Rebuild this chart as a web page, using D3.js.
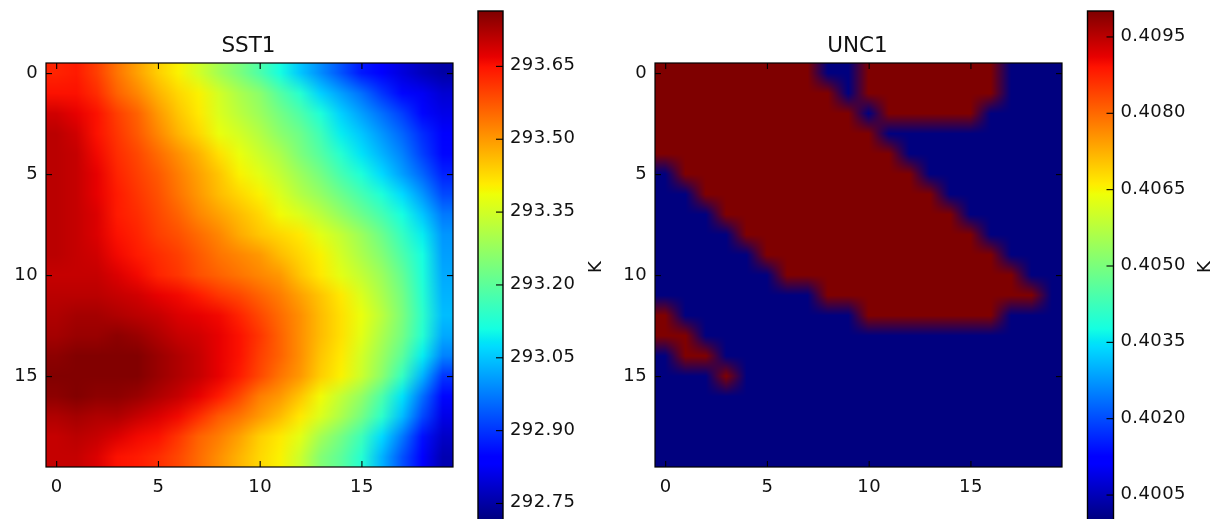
<!DOCTYPE html>
<html>
<head>
<meta charset="utf-8">
<script src="https://cdn.jsdelivr.net/npm/d3@7"></script>
<style>
  html, body { margin: 0; background: #fff; overflow: hidden; }
  #chart { position: relative; width: 1216px; height: 519px; filter: blur(0.65px); }
  #chart canvas, #chart svg { position: absolute; }
  text { font-family: "DejaVu Sans", sans-serif; fill: #111; }
</style>
</head>
<body>
<div id="chart"></div>
<script>
// values, one row per line
const sstValues = [
  [293.63,293.64,293.60,293.54,293.49,293.44,293.40,293.35,293.29,293.24,293.18,293.11,293.05,292.99,292.93,292.87,292.83,292.80,292.77,292.75],
  [293.65,293.65,293.62,293.56,293.52,293.47,293.43,293.40,293.35,293.30,293.26,293.19,293.13,293.06,293.01,292.96,292.90,292.85,292.82,292.79],
  [293.69,293.67,293.65,293.60,293.56,293.50,293.45,293.41,293.36,293.32,293.28,293.23,293.18,293.12,293.06,293.01,292.96,292.91,292.85,292.81],
  [293.71,293.69,293.65,293.61,293.57,293.52,293.47,293.43,293.38,293.35,293.31,293.26,293.22,293.16,293.09,293.05,293.00,292.95,292.89,292.84],
  [293.71,293.70,293.66,293.62,293.59,293.55,293.51,293.47,293.42,293.38,293.34,293.30,293.24,293.19,293.13,293.08,293.03,292.98,292.91,292.85],
  [293.71,293.70,293.67,293.63,293.60,293.57,293.53,293.49,293.45,293.40,293.37,293.33,293.28,293.23,293.17,293.12,293.07,293.01,292.95,292.88],
  [293.71,293.70,293.67,293.64,293.61,293.58,293.54,293.50,293.46,293.43,293.40,293.36,293.31,293.27,293.22,293.17,293.12,293.07,293.00,292.92],
  [293.71,293.70,293.68,293.64,293.62,293.59,293.56,293.52,293.49,293.46,293.43,293.39,293.36,293.32,293.27,293.22,293.17,293.11,293.05,292.97],
  [293.71,293.70,293.68,293.65,293.63,293.60,293.58,293.55,293.52,293.48,293.45,293.43,293.41,293.37,293.33,293.28,293.22,293.15,293.09,293.00],
  [293.71,293.70,293.69,293.66,293.64,293.62,293.60,293.57,293.54,293.52,293.50,293.46,293.43,293.40,293.35,293.30,293.25,293.18,293.11,293.01],
  [293.70,293.70,293.70,293.68,293.66,293.63,293.61,293.58,293.56,293.54,293.52,293.50,293.45,293.41,293.37,293.33,293.28,293.21,293.12,293.02],
  [293.71,293.71,293.71,293.70,293.69,293.67,293.66,293.64,293.61,293.59,293.56,293.53,293.49,293.45,293.41,293.36,293.30,293.23,293.13,293.03],
  [293.72,293.73,293.73,293.72,293.71,293.70,293.68,293.67,293.66,293.63,293.59,293.55,293.51,293.46,293.42,293.38,293.32,293.24,293.14,293.04],
  [293.73,293.74,293.74,293.75,293.74,293.72,293.70,293.69,293.67,293.65,293.61,293.56,293.51,293.46,293.42,293.37,293.30,293.23,293.13,293.02],
  [293.75,293.76,293.76,293.76,293.76,293.74,293.72,293.70,293.67,293.65,293.60,293.56,293.51,293.45,293.41,293.35,293.28,293.20,293.09,292.98],
  [293.76,293.76,293.76,293.76,293.76,293.74,293.72,293.70,293.67,293.64,293.59,293.54,293.50,293.44,293.40,293.34,293.26,293.15,293.03,292.90],
  [293.75,293.76,293.75,293.75,293.74,293.72,293.70,293.67,293.64,293.59,293.53,293.50,293.45,293.39,293.33,293.27,293.18,293.08,292.96,292.85],
  [293.72,293.73,293.72,293.72,293.70,293.68,293.66,293.62,293.57,293.54,293.50,293.46,293.41,293.36,293.30,293.23,293.14,293.04,292.92,292.81],
  [293.70,293.71,293.70,293.68,293.66,293.65,293.61,293.56,293.53,293.49,293.44,293.41,293.37,293.29,293.23,293.16,293.07,292.97,292.86,292.78],
  [293.70,293.70,293.68,293.65,293.64,293.62,293.59,293.55,293.51,293.47,293.43,293.40,293.34,293.25,293.20,293.13,293.03,292.93,292.83,292.76]
];

const uncValues = [
  [.41,.41,.41,.41,.41,.41,.41,.41,.40,.40,.41,.41,.41,.41,.41,.41,.41,.40,.40,.40],
  [.41,.41,.41,.41,.41,.41,.41,.41,.41,.40,.41,.41,.41,.41,.41,.41,.41,.40,.40,.40],
  [.41,.41,.41,.41,.41,.41,.41,.41,.41,.41,.40,.41,.41,.41,.41,.41,.40,.40,.40,.40],
  [.41,.41,.41,.41,.41,.41,.41,.41,.41,.41,.41,.40,.40,.40,.40,.40,.40,.40,.40,.40],
  [.41,.41,.41,.41,.41,.41,.41,.41,.41,.41,.41,.41,.40,.40,.40,.40,.40,.40,.40,.40],
  [.40,.41,.41,.41,.41,.41,.41,.41,.41,.41,.41,.41,.41,.40,.40,.40,.40,.40,.40,.40],
  [.40,.40,.41,.41,.41,.41,.41,.41,.41,.41,.41,.41,.41,.41,.40,.40,.40,.40,.40,.40],
  [.40,.40,.40,.41,.41,.41,.41,.41,.41,.41,.41,.41,.41,.41,.41,.40,.40,.40,.40,.40],
  [.40,.40,.40,.40,.41,.41,.41,.41,.41,.41,.41,.41,.41,.41,.41,.41,.40,.40,.40,.40],
  [.40,.40,.40,.40,.40,.41,.41,.41,.41,.41,.41,.41,.41,.41,.41,.41,.41,.40,.40,.40],
  [.40,.40,.40,.40,.40,.40,.41,.41,.41,.41,.41,.41,.41,.41,.41,.41,.41,.41,.40,.40],
  [.40,.40,.40,.40,.40,.40,.40,.40,.41,.41,.41,.41,.41,.41,.41,.41,.41,.41,.41,.40],
  [.41,.40,.40,.40,.40,.40,.40,.40,.40,.40,.41,.41,.41,.41,.41,.41,.41,.40,.40,.40],
  [.41,.41,.40,.40,.40,.40,.40,.40,.40,.40,.40,.40,.40,.40,.40,.40,.40,.40,.40,.40],
  [.40,.41,.41,.40,.40,.40,.40,.40,.40,.40,.40,.40,.40,.40,.40,.40,.40,.40,.40,.40],
  [.40,.40,.40,.41,.40,.40,.40,.40,.40,.40,.40,.40,.40,.40,.40,.40,.40,.40,.40,.40],
  [.40,.40,.40,.40,.40,.40,.40,.40,.40,.40,.40,.40,.40,.40,.40,.40,.40,.40,.40,.40],
  [.40,.40,.40,.40,.40,.40,.40,.40,.40,.40,.40,.40,.40,.40,.40,.40,.40,.40,.40,.40],
  [.40,.40,.40,.40,.40,.40,.40,.40,.40,.40,.40,.40,.40,.40,.40,.40,.40,.40,.40,.40],
  [.40,.40,.40,.40,.40,.40,.40,.40,.40,.40,.40,.40,.40,.40,.40,.40,.40,.40,.40,.40]
];

const gridTicks = [0, 5, 10, 15];
const sstTicks = [292.75, 292.90, 293.05, 293.20, 293.35, 293.50, 293.65];
const uncTicks = [0.4005, 0.4020, 0.4035, 0.4050, 0.4065, 0.4080, 0.4095];

// jet colormap
const jetStops = [0, .11, .125, .34, .35, .375, .64, .65, .66, .89, .91, 1];
const jetColors = ["#00007f", "#0000ff", "#0000ff", "#00dbff", "#00e5f7", "#14ffe2",
  "#eeff08", "#f7f500", "#ffec00", "#ff1300", "#e80000", "#7f0000"];

const jet = d3.scaleLinear().domain(jetStops).range(jetColors).clamp(true);

const chart = d3.select("#chart");
const svg = chart.append("svg").attr("width", 1216).attr("height", 519);
const defs = svg.append("defs");

defs.append("linearGradient")
  .attr("id", "jet-grad")
  .attr("x1", 0).attr("y1", 1).attr("x2", 0).attr("y2", 0)
  .selectAll("stop")
  .data(jetStops)
  .enter()
  .append("stop")
  .attr("offset", (d) => d)
  .attr("stop-color", (d, i) => jetColors[i]);

const fontSize = 18;

function styleTicks(g) {
  g.selectAll("text")
    .attr("font-size", fontSize)
    .attr("letter-spacing", 0.4);
  g.selectAll("line").attr("stroke", "#000").attr("stroke-width", 1.1);
  g.select(".domain").remove();
}

// imshow: colours are interpolated bilinear in rgb between the cells
function drawImage(values, color, box) {
  const x = d3.scaleLinear().domain([-0.5, 19.5]).range([box.left, box.right]);
  const y = d3.scaleLinear().domain([-0.5, 19.5]).range([box.top, box.bottom]);

  const w = box.right - box.left;
  const h = box.bottom - box.top;
  const canvas = chart.insert("canvas", "svg")
    .attr("width", w)
    .attr("height", h)
    .style("left", box.left + "px")
    .style("top", box.top + "px")
    .node();
  const ctx = canvas.getContext("2d");
  const img = ctx.createImageData(w, h);

  const cells = values.map((row) => row.map((v) => d3.rgb(jet(color(v)))));
  const limit = (v) => Math.max(0, Math.min(19, v));

  for (let py = 0; py < h; py++) {
    const fy = limit(y.invert(box.top + py + 0.5));
    const r0 = Math.floor(fy);
    const r1 = Math.min(19, r0 + 1);
    for (let px = 0; px < w; px++) {
      const fx = limit(x.invert(box.left + px + 0.5));
      const c0 = Math.floor(fx);
      const c1 = Math.min(19, c0 + 1);
      const i = (py * w + px) * 4;
      ["r", "g", "b"].forEach((ch, k) => {
        const top = cells[r0][c0][ch] * (1 - fx + c0) + cells[r0][c1][ch] * (fx - c0);
        const bot = cells[r1][c0][ch] * (1 - fx + c0) + cells[r1][c1][ch] * (fx - c0);
        img.data[i + k] = top * (1 - fy + r0) + bot * (fy - r0);
      });
      img.data[i + 3] = 255;
    }
  }
  ctx.putImageData(img, 0, 0);

  // ticks point inwards on all four sides
  svg.append("g")
    .attr("transform", `translate(0,${box.bottom})`)
    .call(d3.axisBottom(x).tickValues(gridTicks).tickSize(-6).tickPadding(12))
    .call(styleTicks);
  svg.append("g")
    .attr("transform", `translate(0,${box.top})`)
    .call(d3.axisTop(x).tickValues(gridTicks).tickSize(-6).tickFormat(""))
    .call(styleTicks);
  svg.append("g")
    .attr("transform", `translate(${box.left},0)`)
    .call(d3.axisLeft(y).tickValues(gridTicks).tickSize(-6).tickPadding(8))
    .call(styleTicks)
    .selectAll("text")
    .attr("dy", "0.22em");
  svg.append("g")
    .attr("transform", `translate(${box.right},0)`)
    .call(d3.axisRight(y).tickValues(gridTicks).tickSize(-6).tickFormat(""))
    .call(styleTicks);

  svg.append("rect")
    .attr("x", box.left)
    .attr("y", box.top)
    .attr("width", w)
    .attr("height", h)
    .attr("fill", "none")
    .attr("stroke", "#000")
    .attr("stroke-width", 1.2);

  svg.append("text")
    .attr("x", (box.left + box.right) / 2 - 1)
    .attr("y", 52)
    .attr("text-anchor", "middle")
    .attr("font-size", 21.5)
    .text(box.title);
}

function drawColorbar(domain, ticks, format, box) {
  const y = d3.scaleLinear().domain(domain).range([520, 11]);

  svg.append("rect")
    .attr("x", box.left)
    .attr("y", y(domain[1]))
    .attr("width", box.right - box.left)
    .attr("height", y(domain[0]) - y(domain[1]))
    .attr("fill", "url(#jet-grad)")
    .attr("stroke", "#000")
    .attr("stroke-width", 1.4);

  svg.append("g")
    .attr("transform", `translate(${box.right},0)`)
    .call(d3.axisRight(y).tickValues(ticks).tickFormat(format).tickSize(-7).tickPadding(7))
    .call(styleTicks)
    .selectAll("text")
    .attr("dy", "0.22em");

  svg.append("text")
    .attr("transform", `translate(${box.labelX},267) rotate(-90)`)
    .attr("text-anchor", "middle")
    .attr("font-size", fontSize)
    .text("K");
}

const sstDomain = [292.715, 293.763];
const uncDomain = [0.40, 0.41];

drawImage(sstValues, d3.scaleLinear().domain(sstDomain).range([0, 1]),
  { left: 46, right: 453, top: 63, bottom: 467, title: "SST1" });
drawImage(uncValues, d3.scaleLinear().domain(uncDomain).range([0, 1]),
  { left: 655, right: 1062, top: 63, bottom: 467, title: "UNC1" });

drawColorbar(sstDomain, sstTicks, d3.format(".2f"), { left: 478, right: 503, labelX: 601 });
drawColorbar(uncDomain, uncTicks, d3.format(".4f"), { left: 1087.5, right: 1113.5, labelX: 1210 });
</script>
</body>
</html>
